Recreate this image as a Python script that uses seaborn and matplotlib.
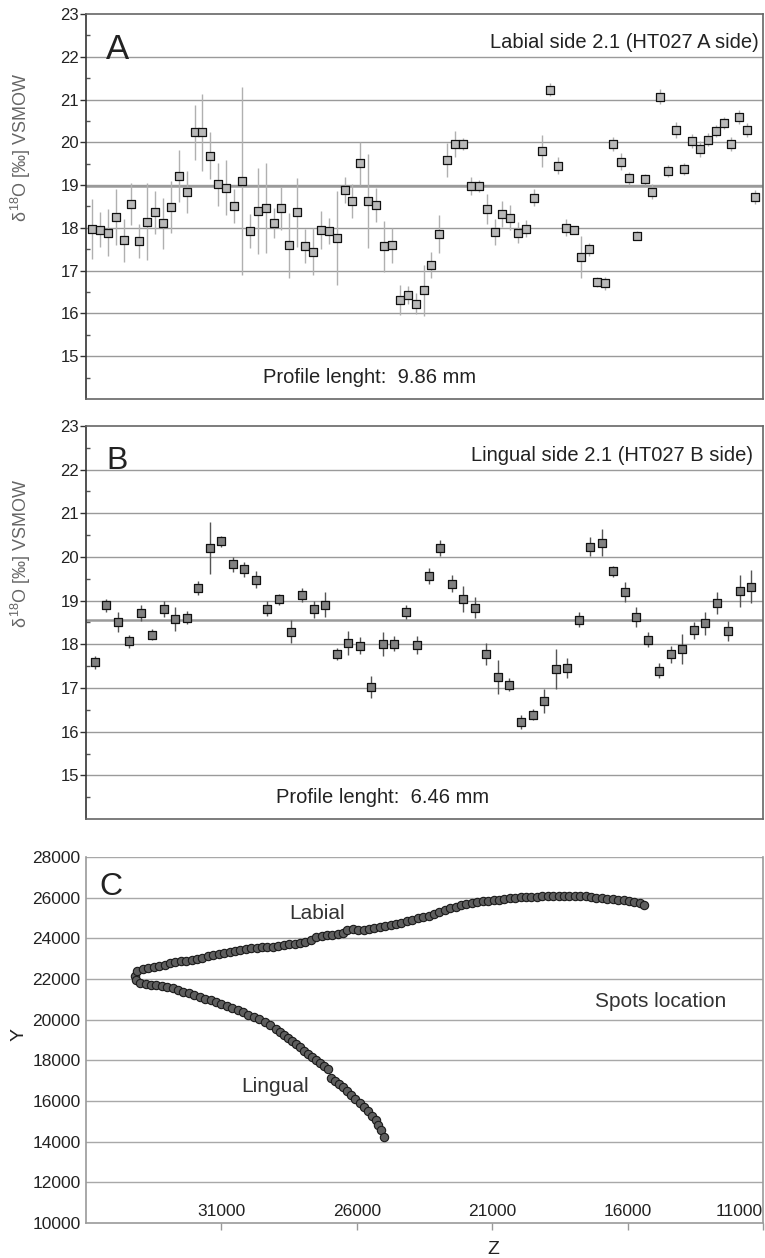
import numpy as np
import pandas as pd
import matplotlib
matplotlib.use("Agg")
import matplotlib.pyplot as plt
import seaborn as sns

# --- panel A: labial side, d18O per spot ---
a_vals = [17.98, 17.96, 17.89, 18.25, 17.71, 18.56, 17.69, 18.14, 18.36, 18.11,
          18.49, 19.21, 18.84, 20.23, 20.23, 19.69, 19.02, 18.94, 18.51, 19.10,
          17.93, 18.39, 18.46, 18.11, 18.46, 17.59, 18.36, 17.57, 17.44, 17.95,
          17.93, 17.76, 18.89, 18.63, 19.51, 18.63, 18.54, 17.57, 17.59, 16.31,
          16.43, 16.23, 16.54, 17.13, 17.86, 19.59, 19.96, 19.96, 18.98, 18.98,
          18.44, 17.91, 18.32, 18.24, 17.89, 17.98, 18.71, 19.80, 21.23, 19.45,
          18.00, 17.95, 17.32, 17.50, 16.74, 16.70, 19.96, 19.55, 19.16, 17.82,
          19.14, 18.85, 21.07, 19.33, 20.29, 19.38, 20.03, 19.84, 20.06, 20.27,
          20.45, 19.96, 20.60, 20.29, 18.73]
a_err = [0.70, 0.40, 0.55, 0.65, 0.50, 0.50, 0.40, 0.90, 0.50, 0.60,
         0.60, 0.60, 0.50, 0.65, 0.90, 0.55, 0.50, 0.65, 0.40, 2.20,
         0.40, 1.00, 1.05, 0.35, 0.50, 0.75, 0.80, 0.40, 0.55, 0.45,
         0.30, 1.10, 0.30, 0.40, 0.50, 1.10, 0.40, 0.60, 0.40, 0.35,
         0.20, 0.25, 0.60, 0.30, 0.45, 0.40, 0.30, 0.15, 0.20, 0.15,
         0.35, 0.30, 0.30, 0.30, 0.25, 0.20, 0.20, 0.37, 0.15, 0.20,
         0.20, 0.10, 0.50, 0.15, 0.12, 0.15, 0.17, 0.20, 0.15, 0.10,
         0.13, 0.18, 0.18, 0.14, 0.18, 0.14, 0.17, 0.18, 0.15, 0.14,
         0.14, 0.17, 0.16, 0.16, 0.16]
a_mean = 18.97

# --- panel B: lingual side ---
b_vals = [17.59, 18.89, 18.52, 18.07, 18.72, 18.22, 18.81, 18.58, 18.61, 19.29,
          20.21, 20.36, 19.83, 19.72, 19.48, 18.82, 19.03, 18.29, 19.13, 18.80,
          18.91, 17.78, 18.03, 17.97, 17.03, 18.01, 18.01, 18.74, 17.99, 19.56,
          20.21, 19.39, 19.03, 18.84, 17.77, 17.25, 17.07, 16.22, 16.39, 16.70,
          17.43, 17.46, 18.56, 20.24, 20.33, 19.67, 19.19, 18.62, 18.11, 17.40,
          17.77, 17.90, 18.32, 18.48, 18.94, 18.30, 19.22, 19.32]
b_err = [0.15, 0.15, 0.23, 0.15, 0.18, 0.13, 0.18, 0.27, 0.15, 0.17,
         0.60, 0.13, 0.17, 0.17, 0.20, 0.18, 0.13, 0.27, 0.17, 0.20,
         0.28, 0.13, 0.28, 0.20, 0.25, 0.27, 0.17, 0.17, 0.20, 0.18,
         0.19, 0.20, 0.30, 0.24, 0.25, 0.38, 0.15, 0.16, 0.13, 0.27,
         0.46, 0.23, 0.17, 0.22, 0.30, 0.13, 0.23, 0.23, 0.17, 0.18,
         0.20, 0.34, 0.20, 0.27, 0.25, 0.23, 0.36, 0.38]
b_mean = 18.55

# --- panel C: spot locations (Z, Y) ---
labial_z = [34200, 34100, 33900, 33700, 33500, 33300, 33100, 32900, 32700, 32500,
            32300, 32100, 31900, 31700, 31500, 31300, 31100, 30900, 30700, 30500,
            30300, 30100, 29900, 29700, 29500, 29300, 29100, 28900, 28700, 28500,
            28300, 28100, 27900, 27700, 27500, 27300, 27100, 26900, 26700, 26500,
            26350, 26150, 25950, 25750, 25550, 25350, 25150, 24950, 24750, 24550,
            24350, 24150, 23950, 23750, 23550, 23350, 23150, 22950, 22750, 22550,
            22350, 22150, 21950, 21750, 21550, 21350, 21150, 20950, 20750, 20550,
            20350, 20150, 19950, 19750, 19550, 19350, 19150, 18950, 18750, 18550,
            18350, 18150, 17950, 17750, 17550, 17350, 17150, 16950, 16750, 16550,
            16350, 16150, 15950, 15750, 15550, 15400]
labial_y = [22150, 22400, 22500, 22550, 22580, 22620, 22700, 22780, 22820, 22870,
            22900, 22950, 23000, 23030, 23150, 23200, 23230, 23280, 23350, 23400,
            23430, 23470, 23500, 23520, 23550, 23570, 23590, 23620, 23660, 23700,
            23720, 23760, 23820, 23900, 24050, 24100, 24150, 24180, 24200, 24280,
            24430, 24440, 24420, 24400, 24450, 24520, 24570, 24620, 24680, 24720,
            24770, 24850, 24920, 25000, 25050, 25120, 25200, 25280, 25380, 25480,
            25540, 25620, 25690, 25740, 25790, 25830, 25860, 25880, 25900, 25930,
            25960, 25990, 26010, 26020, 26040, 26050, 26060, 26070, 26080, 26085,
            26085, 26080, 26085, 26090, 26080, 26040, 26000, 25960, 25930, 25920,
            25900, 25870, 25830, 25780, 25720, 25650]
lingual_z = [34150, 34000, 33800, 33600, 33400, 33200, 33000, 32800, 32600, 32400,
             32200, 32000, 31800, 31600, 31400, 31200, 31000, 30800, 30600, 30400,
             30200, 30000, 29800, 29600, 29400, 29200, 29000, 28850, 28700, 28550,
             28400, 28250, 28100, 27950, 27800, 27650, 27500, 27350, 27200, 27050,
             26950, 26800, 26650, 26500, 26350, 26200, 26050, 25900, 25750, 25600,
             25450, 25300, 25200, 25100, 25000]
lingual_y = [21950, 21800, 21750, 21720, 21700, 21680, 21630, 21560, 21480, 21380,
             21290, 21200, 21120, 21030, 20950, 20870, 20780, 20680, 20590, 20480,
             20370, 20250, 20130, 20030, 19880, 19720, 19560, 19400, 19250, 19100,
             18950, 18800, 18650, 18480, 18300, 18150, 18020, 17880, 17730, 17580,
             17150, 17000, 16850, 16680, 16500, 16300, 16100, 15900, 15700, 15500,
             15270, 15050, 14800, 14550, 14220]

W, H = 765, 1258

sns.set_theme(style="white")
plt.rcParams["font.family"] = ["Liberation Sans", "DejaVu Sans"]
plt.rcParams["mathtext.fontset"] = "custom"
plt.rcParams["mathtext.rm"] = "Liberation Sans"
plt.rcParams["mathtext.it"] = "Liberation Sans"

fig = plt.figure(figsize=(W / 100, H / 100), dpi=100)


def add_axes_px(left, top, right, bottom):
    return fig.add_axes([left / W, 1 - bottom / H, (right - left) / W, (bottom - top) / H])


def iso_panel(ax, vals, errs, mean, face, ecol, letter, letter_size, title, profile,
              label_y, prof_x, title_x):
    x = np.arange(1, len(vals) + 1)
    df = pd.DataFrame({"spot": x, "d18O": vals})
    for yv in range(15, 23):
        ax.axhline(yv, color="#9a9a9a", lw=1.0, zorder=0)
    ax.axhline(mean, color="#9a9a9a", lw=1.8, zorder=0)
    ax.errorbar(x, vals, yerr=errs, fmt="none", ecolor=ecol, elinewidth=1.0, zorder=1)
    sns.scatterplot(data=df, x="spot", y="d18O", ax=ax, marker="s", s=26,
                    color=face, edgecolor="#111111", linewidth=0.9, zorder=2)
    ax.set_xlim(x[0] - 0.75, x[-1] + 1.0)
    ax.set_ylim(14, 23)
    ax.set_xticks([])
    ax.set_yticks(range(15, 24))
    ax.set_yticks(np.arange(14.5, 23, 1.0), minor=True)
    ax.tick_params(axis="y", which="major", direction="out", length=4, width=1,
                   color="#333333", labelsize=12, pad=1, labelcolor="#222222", left=True)
    ax.tick_params(axis="y", which="minor", direction="in", length=3, width=1,
                   color="#555555", left=True)
    for side in ["top", "right", "bottom"]:
        ax.spines[side].set_color("#666666")
        ax.spines[side].set_linewidth(1.2)
    ax.spines["left"].set_color("#333333")
    ax.spines["left"].set_linewidth(1.2)
    ax.set_xlabel("")
    ax.set_ylabel(r"$\delta^{18}$O [‰] VSMOW", fontsize=13, color="#666666")
    ax.yaxis.set_label_coords(-0.078, label_y)
    ax.text(0.03, 0.95, letter, transform=ax.transAxes, fontsize=letter_size,
            color="#222222", ha="left", va="top")
    ax.text(title_x, 0.95, title, transform=ax.transAxes, fontsize=14.5,
            color="#222222", ha="right", va="top")
    ax.text(prof_x, 0.055, profile, transform=ax.transAxes, fontsize=14.5,
            color="#222222", ha="left", va="center")


ax_a = add_axes_px(86, 14, 763, 399)
iso_panel(ax_a, a_vals, a_err, a_mean, "#b8b8b8", "#b0b0b0", "A", 25,
          "Labial side 2.1 (HT027 A side)", "Profile lenght:  9.86 mm", 0.655, 0.262, 0.993)

ax_b = add_axes_px(86, 426, 763, 819)
iso_panel(ax_b, b_vals, b_err, b_mean, "#808080", "#555555", "B", 23,
          "Lingual side 2.1 (HT027 B side)", "Profile lenght:  6.46 mm", 0.677, 0.28, 0.985)

# --- panel C ---
ax_c = add_axes_px(86, 857, 763, 1223)
df_c = pd.concat([
    pd.DataFrame({"Z": labial_z, "Y": labial_y, "side": "Labial"}),
    pd.DataFrame({"Z": lingual_z, "Y": lingual_y, "side": "Lingual"}),
])
for yv in range(12000, 28001, 2000):
    ax_c.axhline(yv, color="#a8a8a8", lw=1.0, zorder=0)
sns.scatterplot(data=df_c, x="Z", y="Y", ax=ax_c, marker="o", s=36,
                color="#5e5e5e", edgecolor="#1a1a1a", linewidth=0.8, zorder=2, legend=False)
ax_c.set_xlim(36000, 11000)
ax_c.set_ylim(10000, 28000)
ax_c.set_xticks([31000, 26000, 21000, 16000, 11000])
ax_c.set_xticklabels(["31000", "26000", "21000", "16000", "11000"])
ax_c.get_xticklabels()[-1].set_ha("right")
ax_c.set_yticks(range(10000, 28001, 2000))
ax_c.tick_params(axis="x", direction="out", length=5, width=1, color="#999999",
                 labelsize=12.5, pad=-19, labelcolor="#222222", bottom=True)
ax_c.tick_params(axis="y", length=0, labelsize=12.5, pad=4, labelcolor="#222222")
ax_c.spines["top"].set_visible(False)
for side in ["left", "bottom", "right"]:
    ax_c.spines[side].set_color("#9a9a9a")
    ax_c.spines[side].set_linewidth(1.2)
ax_c.set_xlabel("Z", fontsize=14, color="#222222")
ax_c.set_ylabel("Y", fontsize=14, color="#222222")
ax_c.xaxis.set_label_coords(0.601, -0.05)
ax_c.yaxis.set_label_coords(-0.086, 0.514)
ax_c.text(0.02, 0.96, "C", transform=ax_c.transAxes, fontsize=23,
          color="#222222", ha="left", va="top")
ax_c.text(0.341, 0.846, "Labial", transform=ax_c.transAxes, fontsize=15,
          color="#333333", ha="center", va="center")
ax_c.text(0.279, 0.372, "Lingual", transform=ax_c.transAxes, fontsize=15,
          color="#333333", ha="center", va="center")
ax_c.text(0.849, 0.604, "Spots location", transform=ax_c.transAxes, fontsize=15,
          color="#333333", ha="center", va="center")

fig.savefig("out.png", dpi=100, facecolor="white")
plt.close(fig)
